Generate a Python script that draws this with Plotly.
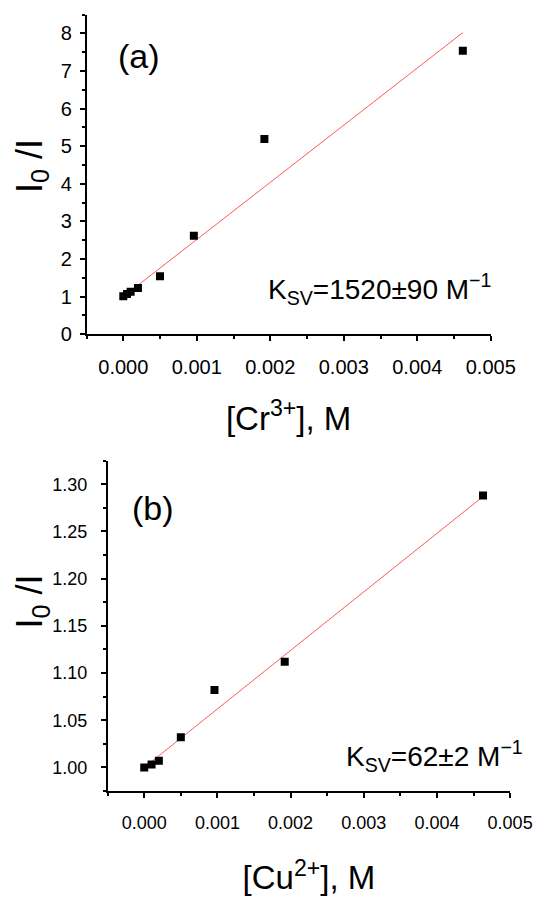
import plotly.graph_objects as go

FONT = "Liberation Sans, Arial, sans-serif"

# panel (a): quenching by Cr3+
cr_conc = [0.0, 0.00005, 0.0001, 0.0002, 0.0005, 0.00096, 0.00192, 0.00462]
cr_ratio = [1.01, 1.07, 1.13, 1.23, 1.54, 2.62, 5.19, 7.54]
cr_ksv = 1520

# panel (b): quenching by Cu2+
cu_conc = [0.0, 0.0001, 0.0002, 0.0005, 0.00096, 0.00192, 0.00463]
cu_ratio = [1.000, 1.003, 1.007, 1.032, 1.082, 1.112, 1.288]
cu_ksv = 62


def fit_line(conc, ksv):
    # Stern-Volmer line I0/I = 1 + Ksv*[Q]
    xs = [0.0, max(conc)]
    return xs, [1 + ksv * x for x in xs]


def axis_style(**kw):
    style = dict(
        showline=True, linewidth=1.5, linecolor="black",
        ticks="outside", ticklen=5, tickwidth=1.5, tickcolor="black",
        showgrid=False, zeroline=False,
        tickfont=dict(family=FONT, size=20, color="black"),
    )
    style.update(kw)
    return style


fig = go.Figure()

for conc, ratio, ksv, xa, ya in [
    (cr_conc, cr_ratio, cr_ksv, "x", "y"),
    (cu_conc, cu_ratio, cu_ksv, "x2", "y2"),
]:
    fx, fy = fit_line(conc, ksv)
    fig.add_trace(go.Scatter(
        x=fx, y=fy, mode="lines", xaxis=xa, yaxis=ya,
        line=dict(color="#ff5a5a", width=1), showlegend=False,
    ))
    fig.add_trace(go.Scatter(
        x=conc, y=ratio, mode="markers", xaxis=xa, yaxis=ya,
        marker=dict(symbol="square", size=8, color="black"), showlegend=False,
    ))

x_minor = dict(ticks="outside", ticklen=3, tickwidth=1.5, tickcolor="black", dtick=0.0005, tick0=0)
small_ticks = dict(family=FONT, size=18, color="black")

fig.update_layout(
    width=550, height=899,
    margin=dict(l=0, r=0, t=0, b=0),
    plot_bgcolor="white", paper_bgcolor="white",
    font=dict(family=FONT, color="black"),
    xaxis=axis_style(
        domain=[0.1496, 0.9195], anchor="y", range=[-0.0005, 0.005],
        dtick=0.001, tick0=0, tickformat=".3f", minor=x_minor, ticklabelstandoff=9,
        title=dict(text="[Cr<sup>3+</sup>], M", font=dict(size=33), standoff=30),
    ),
    yaxis=axis_style(
        domain=[0.6326, 0.9925], anchor="x", range=[0, 8.5],
        dtick=1, tick0=0, ticklabelstandoff=4,
        minor=dict(ticks="outside", ticklen=3, tickwidth=1.5, tickcolor="black", dtick=0.5, tick0=0),
    ),
    xaxis2=axis_style(
        domain=[0.1898, 0.9564], anchor="y2", range=[-0.0005, 0.005],
        dtick=0.001, tick0=0, tickformat=".3f", minor=x_minor, tickfont=small_ticks,
        ticklabelstandoff=10,
        title=dict(text="[Cu<sup>2+</sup>], M", font=dict(size=33), standoff=34),
    ),
    yaxis2=axis_style(
        domain=[0.1182, 0.4902], anchor="x2", range=[0.975, 1.325],
        dtick=0.05, tick0=1.0, tickformat=".2f", tickfont=small_ticks, ticklabelstandoff=10,
        minor=dict(ticks="outside", ticklen=3, tickwidth=1.5, tickcolor="black", dtick=0.025, tick0=1.0),
    ),
)

notes = [
    dict(text="I<sub>0</sub> /I", x=0.0455, y=0.822, textangle=-90, size=36, xanchor="center"),
    dict(text="I<sub>0</sub> /I", x=0.0455, y=0.3315, textangle=-90, size=36, xanchor="center"),
    dict(text="(a)", x=0.249, y=0.9455, size=34, xanchor="center"),
    dict(text="(b)", x=0.2758, y=0.4364, size=34, xanchor="center"),
    dict(text="K<sub>SV</sub>=1520±90 M<sup>−1</sup>", x=0.9236, y=0.684, size=28, xanchor="right"),
    dict(text="K<sub>SV</sub>=62±2 M<sup>−1</sup>", x=0.985, y=0.158, size=28, xanchor="right"),
]
for n in notes:
    fig.add_annotation(
        text=n["text"], xref="paper", yref="paper", x=n["x"], y=n["y"],
        xanchor=n["xanchor"], yanchor="middle", showarrow=False,
        textangle=n.get("textangle", 0),
        font=dict(family=FONT, size=n["size"], color="black"),
    )

fig.write_html("out.html")
